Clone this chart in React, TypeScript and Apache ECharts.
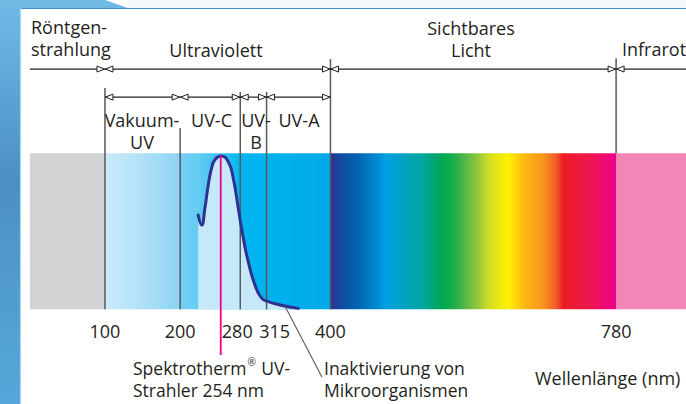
import React, { useEffect, useRef } from "react";
import * as echarts from "echarts";

// ---------- data ----------
const axisMinNm = 0;
const axisMaxNm = 873;
const tickValues = [100, 200, 280, 315, 400, 780];

// band edges (nm) of the colour strip
const bandEdges = [0, 100, 200, 280, 400, 780, 873];
const bandBottom = 0;
const bandTop = 100;

// emission curve of the UV lamp (relative intensity, 0..100 over band height)
const lampWavelength = [224, 228.6, 233, 237.4, 241.9, 246.3, 254.5, 264, 270.6, 277.3, 284, 290.6, 299.5, 308.4, 317.2, 332.8, 357.1];
const lampIntensity = [60.4, 54, 64.9, 79.7, 90.6, 95.9, 98.2, 94.6, 84.2, 64.9, 45.7, 30.5, 15.6, 7.2, 4.9, 2.8, 0.6];

// 254 nm lamp marker
const lampLineNm = 254;
const lampLineTop = 98.9;
const lampLineBottom = -29.3;

// pointer to "Inaktivierung von Mikroorganismen"
const pointerNm = [339.4, 388.6];
const pointerLevel = [2.1, -43.4];

// range arrows: [from, to, level, arrowAtFrom, arrowAtTo]
const spectrumRanges = [
  [0, 100, 154, 0, 1],
  [100, 400, 154, 1, 1],
  [400, 780, 154, 1, 1],
  [780, 873, 154, 1, 0],
];
const uvRanges = [
  [100, 200, 136, 1, 1],
  [200, 280, 136, 1, 1],
  [280, 315, 136, 1, 1],
  [315, 400, 136, 1, 1],
];

// vertical boundary lines
const boundaryNm = [100, 200, 280, 315, 400, 780];
const boundaryTop = [141.9, 116.2, 139.3, 139.3, 160.4, 161];
const boundaryBottom = [0, 0, 0, 0, 0, 100];

// ---------- styles ----------
const FONT = '"Open Sans", sans-serif';
const FS = 18;
const FS_SMALL = 17.5;
const LH_SMALL = 21.8;
const TEXT = "#231f20";

const spectrumStops: [number, string][] = [
  [0, "#2e3192"],
  [0.043, "#0d4fa2"],
  [0.105, "#0069b4"],
  [0.195, "#00a0e3"],
  [0.276, "#00a3b6"],
  [0.324, "#00a69d"],
  [0.39, "#00a652"],
  [0.4, "#00aa4f"],
  [0.44, "#29ae4a"],
  [0.511, "#8dc63f"],
  [0.558, "#d7df23"],
  [0.621, "#fff200"],
  [0.674, "#fdbb12"],
  [0.745, "#f7941d"],
  [0.789, "#f15a29"],
  [0.813, "#ed1c24"],
  [0.918, "#ee1655"],
  [0.995, "#ec008c"],
  [1, "#ec008c"],
];
const bandStops: [number, string][][] = [
  [[0, "#d1d3d4"], [1, "#d1d3d4"]],
  [[0, "#cbeafa"], [0.4, "#b6e3f8"], [1, "#8cd3f3"]],
  [[0, "#74d0f4"], [0.3, "#64ccf3"], [0.85, "#1cbcf0"], [1, "#00b6ef"]],
  [[0, "#00b5ef"], [1, "#00a9e7"]],
  spectrumStops,
  [[0, "#f287b7"], [1, "#f287b7"]],
];

function txt(text: string, x: number, y: number, align: string, lineHeight = 22, fs = FS, rich?: any) {
  return {
    type: "text",
    x,
    y,
    z: 100,
    style: {
      text,
      fill: TEXT,
      font: `${fs}px ${FONT}`,
      fontSize: fs,
      fontFamily: FONT,
      textAlign: align,
      align,
      textVerticalAlign: "middle",
      verticalAlign: "middle",
      lineHeight,
      rich,
    },
  };
}

export default function App() {
  const ref = useRef<HTMLDivElement>(null);

  useEffect(() => {
    if (!ref.current) return;
    const chart = echarts.init(ref.current, undefined, { renderer: "svg" });

    const bandData = bandEdges.slice(0, -1).map((e, i) => [e, bandEdges[i + 1], i]);
    const lampData = lampWavelength.map((w, i) => [w, lampIntensity[i]]);
    const boundaryData = boundaryNm.map((n, i) => [n, boundaryTop[i], boundaryBottom[i]]);
    const rangeData = [...spectrumRanges, ...uvRanges];

    const supRich = {
      a: { fontSize: FS_SMALL, fontFamily: FONT, color: TEXT, lineHeight: LH_SMALL },
      s: { fontSize: 10, fontFamily: FONT, color: TEXT, lineHeight: LH_SMALL, verticalAlign: "top", padding: [0, 1, 0, 1] },
    };

    const option: any = {
      animation: false,
      backgroundColor: "#ffffff",
      grid: { left: 29.8, width: 656.4, top: 153.3, height: 156 },
      xAxis: {
        type: "value",
        min: axisMinNm,
        max: axisMaxNm,
        axisLine: { show: false },
        axisTick: { show: false },
        splitLine: { show: false },
        axisLabel: {
          customValues: tickValues,
          margin: 13,
          color: TEXT,
          fontSize: FS,
          fontFamily: FONT,
          formatter: (v: number) => (v === 315 ? "{r|315}" : v === 280 ? "{l|280}" : String(v)),
          rich: {
            r: { padding: [0, 0, 0, 16], fontSize: FS, fontFamily: FONT, color: TEXT },
            l: { padding: [0, 6, 0, 0], fontSize: FS, fontFamily: FONT, color: TEXT },
          },
        },
      },
      yAxis: { type: "value", min: bandBottom, max: bandTop, show: false },
      series: [
        {
          type: "custom",
          name: "band",
          z: 1,
          clip: false,
          silent: true,
          data: bandData,
          renderItem: (params: any, api: any) => {
            const a = api.coord([api.value(0), bandTop]);
            const b = api.coord([api.value(1), bandBottom]);
            const idx = api.value(2);
            return {
              type: "rect",
              shape: { x: a[0], y: a[1], width: b[0] - a[0] + 0.6, height: b[1] - a[1] },
              style: {
                fill: new echarts.graphic.LinearGradient(0, 0, 1, 0, bandStops[idx].map(([o, c]) => ({ offset: o, color: c }))),
              },
            };
          },
        },
        {
          type: "line",
          name: "lampArea",
          z: 2,
          data: lampData,
          smooth: 0.5,
          symbol: "none",
          lineStyle: { width: 0 },
          areaStyle: { color: "#c6e9f9", opacity: 1 },
          silent: true,
        },
        {
          type: "custom",
          name: "boundaries",
          z: 3,
          clip: false,
          silent: true,
          data: boundaryData,
          renderItem: (params: any, api: any) => {
            const t = api.coord([api.value(0), api.value(1)]);
            const b = api.coord([api.value(0), api.value(2)]);
            return {
              type: "line",
              shape: { x1: t[0], y1: t[1], x2: b[0], y2: b[1] },
              style: { stroke: "#58595b", lineWidth: 1.5 },
            };
          },
        },
        {
          type: "custom",
          name: "ranges",
          z: 4,
          clip: false,
          silent: true,
          data: rangeData,
          renderItem: (params: any, api: any) => {
            const a = api.coord([api.value(0), api.value(2)]);
            const b = api.coord([api.value(1), api.value(2)]);
            const y = a[1];
            const L = 8, H = 3;
            const children: any[] = [
              { type: "line", shape: { x1: a[0], y1: y, x2: b[0], y2: y }, style: { stroke: TEXT, lineWidth: 1.2 } },
            ];
            if (api.value(3)) {
              children.push({
                type: "polygon",
                shape: { points: [[a[0] + 0.5, y], [a[0] + L, y - H], [a[0] + L, y + H]] },
                style: { fill: "#ffffff", stroke: TEXT, lineWidth: 1 },
              });
            }
            if (api.value(4)) {
              children.push({
                type: "polygon",
                shape: { points: [[b[0] - 0.5, y], [b[0] - L, y - H], [b[0] - L, y + H]] },
                style: { fill: "#ffffff", stroke: TEXT, lineWidth: 1 },
              });
            }
            return { type: "group", children };
          },
        },
        {
          type: "line",
          name: "lampCurve",
          z: 5,
          data: lampData,
          smooth: 0.5,
          symbol: "none",
          lineStyle: { width: 3, color: "#2e3192", cap: "round" },
          silent: true,
        },
        {
          type: "custom",
          name: "lampLine",
          z: 6,
          clip: false,
          silent: true,
          data: [[lampLineNm, lampLineTop, lampLineBottom]],
          renderItem: (params: any, api: any) => {
            const t = api.coord([api.value(0), api.value(1)]);
            const b = api.coord([api.value(0), api.value(2)]);
            return {
              type: "line",
              shape: { x1: t[0], y1: t[1], x2: b[0], y2: b[1] },
              style: { stroke: "#ec008c", lineWidth: 1.8 },
            };
          },
        },
        {
          type: "custom",
          name: "pointer",
          z: 6,
          clip: false,
          silent: true,
          data: [[pointerNm[0], pointerLevel[0], pointerNm[1], pointerLevel[1]]],
          renderItem: (params: any, api: any) => {
            const a = api.coord([api.value(0), api.value(1)]);
            const b = api.coord([api.value(2), api.value(3)]);
            return {
              type: "line",
              shape: { x1: a[0], y1: a[1], x2: b[0], y2: b[1] },
              style: { stroke: "#58595b", lineWidth: 1.1 },
            };
          },
        },
      ],
      graphic: [
        // frame decoration
        {
          type: "polygon",
          z: 50,
          silent: true,
          shape: { points: [[0, 0], [105, 0], [128, 8], [20, 8], [20, 404], [0, 404]] },
          style: {
            fill: new echarts.graphic.LinearGradient(0, 0, 0, 1, [
              { offset: 0, color: "#6fbbe6" },
              { offset: 0.45, color: "#4a8fc6" },
              { offset: 0.6, color: "#4f97cc" },
              { offset: 1, color: "#55a7db" },
            ]),
          },
        },
        {
          type: "rect",
          z: 51,
          silent: true,
          shape: { x: 128, y: 0, width: 560, height: 8 },
          style: { fill: "#f4f9fd" },
        },
        {
          type: "line",
          z: 52,
          silent: true,
          shape: { x1: 20, y1: 8.5, x2: 686, y2: 8.5 },
          style: { stroke: "#3a8fd0", lineWidth: 1.2 },
        },
        {
          type: "line",
          z: 52,
          silent: true,
          shape: { x1: 20.5, y1: 8, x2: 20.5, y2: 404 },
          style: { stroke: "#a9d5f1", lineWidth: 1.2 },
        },
        txt("Röntgen-\nstrahlung", 31, 38, "left"),
        txt("Ultraviolett", 216, 50, "center"),
        txt("Sichtbares\nLicht", 471, 39, "center"),
        txt("Infrarot", 622, 49, "left"),
        txt("Vakuum-\nUV", 142, 130.5, "center", 22),
        txt("UV-C", 211.5, 120, "center"),
        txt("UV-\nB", 256, 130.5, "center", 22),
        txt("UV-A", 299, 120, "center"),
        txt("{a|Spektrotherm}{s|®}{a| UV-}\n{a|Strahler 254 nm}", 133, 379, "left", LH_SMALL, FS_SMALL, supRich),
        txt("Inaktivierung von\nMikroorganismen", 324, 379, "left", LH_SMALL, FS_SMALL),
        txt("Wellenlänge (nm)", 535, 378, "left"),
      ],
    };

    chart.setOption(option);
    return () => chart.dispose();
  }, []);

  return (
    <div
      ref={ref}
      style={{ position: "fixed", left: 0, top: 0, width: 686, height: 404 }}
    />
  );
}
